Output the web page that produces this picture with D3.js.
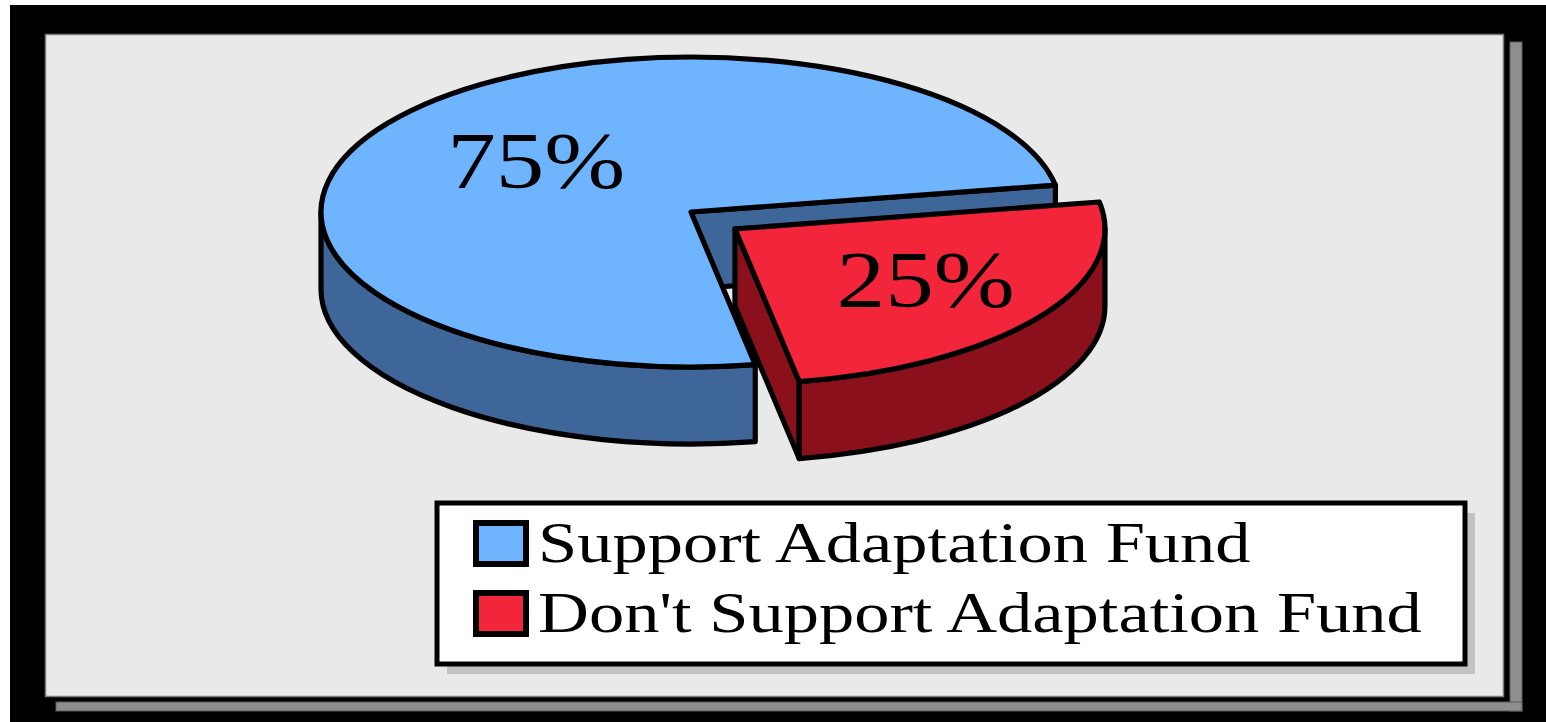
<!DOCTYPE html>
<html>
<head>
<meta charset="utf-8">
<script src="https://cdn.jsdelivr.net/npm/d3@7"></script>
<style>
  html, body { margin: 0; padding: 0; background: #fff; overflow: hidden; }
  text { font-family: "Liberation Serif", "Times New Roman", serif; fill: #000; }
</style>
</head>
<body>
<svg id="chart" width="1546" height="722"></svg>
<script>
// ---- data ----
const categories = ["Support Adaptation Fund", "Don't Support Adaptation Fund"];
const shares = [75, 25];
const sliceLabels = ["75%", "25%"];
const explodedSlice = [false, true];

// ---- styling ----
const topColors  = ["#6eb4ff", "#f2253a"];
const sideColors = ["#3f6698", "#8a101c"];
const W = 1546, H = 722;
const STRETCH = 1.215;        // wide serif lettering
const deg = Math.PI / 180;

const svg = d3.select("#chart");

// outer black frame
svg.append("rect").attr("x", 10).attr("y", 5).attr("width", W - 10).attr("height", H - 5).attr("fill", "#000");
// drop shadow of the plot panel
svg.append("rect").attr("x", 1510).attr("y", 42).attr("width", 12).attr("height", 669)
  .attr("fill", "#8e8e8e").attr("stroke", "#5a5a5a").attr("stroke-width", 1);
svg.append("rect").attr("x", 56).attr("y", 702).attr("width", 1466).attr("height", 9)
  .attr("fill", "#8e8e8e").attr("stroke", "#5a5a5a").attr("stroke-width", 1);
// plot panel
svg.append("rect").attr("x", 45.5).attr("y", 34.5).attr("width", 1458).attr("height", 662)
  .attr("fill", "#e9e9e9").attr("stroke", "#7a7a7a").attr("stroke-width", 1.5);

// ---- 3D pie ----
const cx = 691, cy = 212, rx = 370, ry = 155, depth = 77;
const explodeX = 0.145, explodeY = 0.19;
const start = 170 * deg;
const pie = d3.pie().sort(null).value(d => d).startAngle(start).endAngle(start + 2 * Math.PI);
const arcs = pie(shares);

const offsetOf = (d, i) => {
  if (!explodedSlice[i]) return { dx: 0, dy: 0 };
  const m = (d.startAngle + d.endAngle) / 2;
  return { dx: explodeX * rx * Math.sin(m), dy: -explodeY * ry * Math.cos(m) };
};
const P = (t, r, h, o) => [cx + o.dx + r * rx * Math.sin(t), cy + o.dy - r * ry * Math.cos(t) + h];

function topPath(a0, a1, o) {
  const p = d3.path();
  const c = P(0, 0, 0, o), s = P(a0, 1, 0, o), e = P(a1, 1, 0, o);
  p.moveTo(c[0], c[1]);
  p.lineTo(s[0], s[1]);
  return p.toString() + `A${rx},${ry} 0 ${(a1 - a0) > Math.PI ? 1 : 0} 1 ${e[0]},${e[1]}Z`;
}
function sidePath(a0, a1, o) {
  const s0 = P(a0, 1, 0, o), e0 = P(a1, 1, 0, o), e1 = P(a1, 1, depth, o), s1 = P(a0, 1, depth, o);
  const lg = (a1 - a0) > Math.PI ? 1 : 0;
  return `M${s0[0]},${s0[1]}A${rx},${ry} 0 ${lg} 1 ${e0[0]},${e0[1]}L${e1[0]},${e1[1]}` +
         `A${rx},${ry} 0 ${lg} 0 ${s1[0]},${s1[1]}Z`;
}
function radialPath(t, o) {
  const pts = [P(0, 0, 0, o), P(t, 1, 0, o), P(t, 1, depth, o), P(0, 0, depth, o)];
  return d3.line()(pts) + "Z";
}
// front-facing parts of the rim
function frontSpans(a0, a1) {
  const out = [];
  for (let k = -1; k <= 2; k++) {
    const lo = Math.max(a0, Math.PI / 2 + 2 * Math.PI * k);
    const hi = Math.min(a1, 3 * Math.PI / 2 + 2 * Math.PI * k);
    if (hi > lo) out.push([lo, hi]);
  }
  return out;
}

const g = svg.append("g")
  .attr("stroke", "#000").attr("stroke-width", 5.2).attr("stroke-linejoin", "round");

arcs.forEach((d, i) => {
  const o = offsetOf(d, i);
  const sg = g.append("g");
  if (Math.sin(d.startAngle) < 0)
    sg.append("path").attr("d", radialPath(d.startAngle, o)).attr("fill", sideColors[i]);
  if (Math.sin(d.endAngle) > 0)
    sg.append("path").attr("d", radialPath(d.endAngle, o)).attr("fill", sideColors[i]);
  frontSpans(d.startAngle, d.endAngle).forEach(([lo, hi]) =>
    sg.append("path").attr("d", sidePath(lo, hi, o)).attr("fill", sideColors[i]));
  sg.append("path").attr("d", topPath(d.startAngle, d.endAngle, o)).attr("fill", topColors[i]);
});

// value labels on the top faces
const labelR = 0.57, labelShift = 18;
const fitWidth = sel => sel.each(function () {
  const w = this.getComputedTextLength();
  d3.select(this).attr("textLength", w * STRETCH).attr("lengthAdjust", "spacingAndGlyphs");
});
arcs.forEach((d, i) => {
  const o = offsetOf(d, i);
  const m = (d.startAngle + d.endAngle) / 2;
  const [x, y] = P(m, labelR, 0, o);
  svg.append("text")
    .attr("x", x + labelShift).attr("y", y + 27)
    .attr("text-anchor", "middle")
    .attr("font-size", 80)
    .text(sliceLabels[i])
    .call(fitWidth);
});

// ---- legend ----
const lg = { x: 437, y: 503, w: 1028, h: 161 };
svg.append("rect").attr("x", lg.x + 10).attr("y", lg.y + 10).attr("width", lg.w).attr("height", lg.h)
  .attr("fill", "#c2c2c2");
svg.append("rect").attr("x", lg.x).attr("y", lg.y).attr("width", lg.w).attr("height", lg.h)
  .attr("fill", "#fff").attr("stroke", "#000").attr("stroke-width", 5);

const rowY = d3.scalePoint().domain(categories).range([543.5, 613.5]);
categories.forEach((c, i) => {
  const yc = rowY(c);
  svg.append("rect").attr("x", 476).attr("y", yc - 20.5).attr("width", 50).attr("height", 41)
    .attr("fill", topColors[i]).attr("stroke", "#000").attr("stroke-width", 6);
  svg.append("text").attr("x", 538).attr("y", yc + 18.5)
    .attr("font-size", 58)
    .text(c)
    .call(fitWidth);
});
</script>
</body>
</html>
